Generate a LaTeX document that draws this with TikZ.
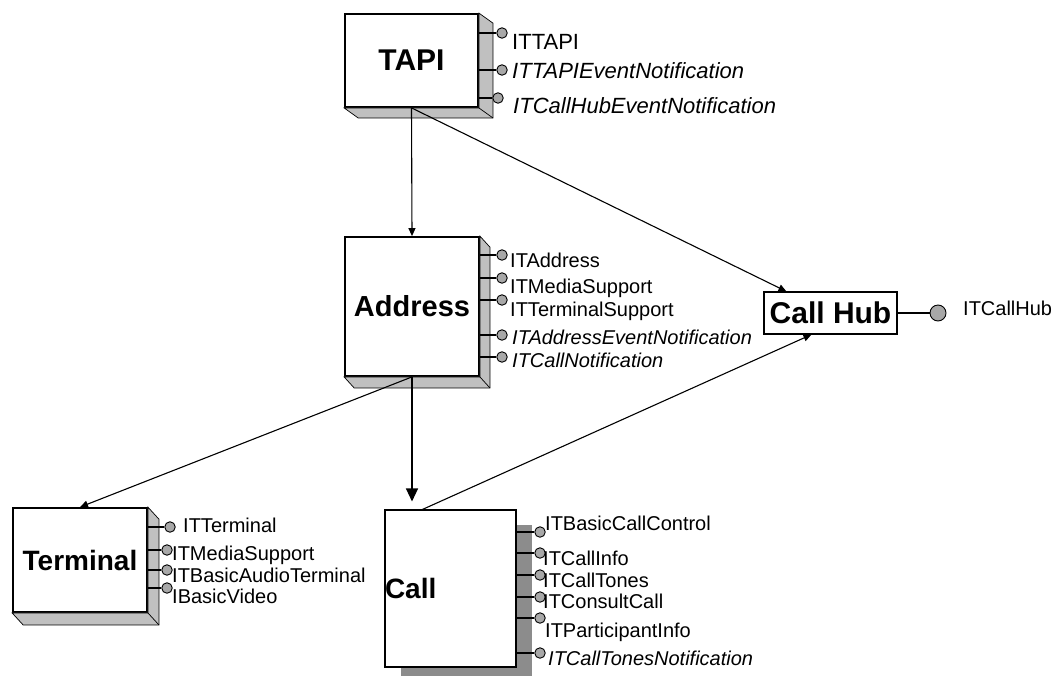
\documentclass[tikz,border=0pt]{standalone}
\usepackage{fontspec}
\setmainfont{Liberation Sans}
\usetikzlibrary{arrows.meta,calc,shadows}
\definecolor{sidegray}{HTML}{C0C0C0}
\definecolor{shadowgray}{HTML}{8C8C8C}
\definecolor{lolligray}{HTML}{A8A8A8}
\tikzset{
  box/.style={draw, fill=white, line width=1.8pt, inner sep=0pt},
  side/.style={draw, fill=sidegray, line width=0.7pt, line join=miter},
  conn/.style={line width=1.1pt, -{Triangle[length=8pt,width=7pt]}},
  bigconn/.style={line width=1.3pt, -{Triangle[length=13pt,width=12pt]}},
  lpc/.style={circle, draw, fill=lolligray, line width=0.9pt, minimum size=10.5pt, inner sep=0pt},
  lpl/.style={line width=1.1pt},
  lpt/.style={anchor=base west, inner sep=0pt, font=\fontsize{20}{20}\selectfont},
  lptbig/.style={anchor=base west, inner sep=0pt, font=\fontsize{22}{22}\selectfont},
}
% #1 name, #2 box, #3 circle x, #4 circle y, #5 text style, #6 text x, #7 baseline y, #8 text
\newcommand\lolli[8]{%
  \node[lpc] (#1c) at (#3,#4) {};
  \draw[lpl] (#1c -| #2.east) -- (#1c);
  \node[#5] (#1t) at (#6,#7) {#8};
}
% #1 box, #2 dx, #3 dy
\newcommand\bevel[3]{%
  \draw[side] (#1.north east) -- ($(#1.north east)+(#2,#3)$) -- ($(#1.south east)+(#2,#3)$)
    -- ($(#1.south west)+(#2,#3)$) -- (#1.south west) -- (#1.south east) -- cycle;
  \draw[line width=0.7pt] (#1.south east) -- ($(#1.south east)+(#2,#3)$);
}
\begin{document}
\begin{tikzpicture}[x=1pt, y=-1pt]
\useasboundingbox (0,0) rectangle (1052,675);

% boxes
\node[box, minimum width=133pt, minimum height=93pt, font=\bfseries\fontsize{30}{30}\selectfont] (tapi) at (411.5,60.5) {TAPI};
\bevel{tapi}{14}{10}
\node[box, minimum width=134pt, minimum height=139pt, font=\bfseries\fontsize{29}{29}\selectfont] (address) at (412,306.5) {Address};
\bevel{address}{10}{11}
\node[box, minimum width=134pt, minimum height=104pt, font=\bfseries\fontsize{28}{28}\selectfont] (terminal) at (80,560) {Terminal};
\bevel{terminal}{11}{12}
\node[box, line width=1.1pt, minimum width=133pt, minimum height=42pt, font=\bfseries\fontsize{30}{30}\selectfont] (callhub) at (830.5,313) {Call Hub};
\node[box, line width=1.1pt, minimum width=131pt, minimum height=157pt, text width=131pt, align=left,
      drop shadow={shadow xshift=16pt, shadow yshift=-15pt, fill=shadowgray, opacity=1},
      font=\bfseries\fontsize{28}{28}\selectfont] (call) at (450.5,588.5) {Call};

% TAPI interfaces
\lolli{ittapi}{tapi}{502}{33}{lptbig}{512}{49}{ITTAPI}
\lolli{ittapien}{tapi}{502}{70}{lptbig}{512}{78}{\itshape ITTAPIEventNotification}
\lolli{itchen}{tapi}{498}{98}{lptbig}{513}{113}{\itshape ITCallHubEventNotification}

% Address interfaces
\lolli{itaddr}{address}{502}{255}{lpt}{510}{267}{ITAddress}
\lolli{itmsa}{address}{502}{278}{lpt}{510}{293}{ITMediaSupport}
\lolli{itts}{address}{502}{300}{lpt}{510}{316}{ITTerminalSupport}
\lolli{itaen}{address}{502}{335}{lpt}{512}{344}{\itshape ITAddressEventNotification}
\lolli{itcn}{address}{502}{357}{lpt}{512}{367}{\itshape ITCallNotification}

% Terminal interfaces
\lolli{itterm}{terminal}{170}{527}{lpt}{183}{532}{ITTerminal}
\lolli{itmst}{terminal}{167}{550}{lpt}{172}{560}{ITMediaSupport}
\lolli{itbat}{terminal}{167}{570}{lpt}{172}{582}{ITBasicAudioTerminal}
\lolli{ibv}{terminal}{167}{588}{lpt}{172}{603}{IBasicVideo}

% Call interfaces
\lolli{itbcc}{call}{540}{532}{lpt}{545}{530}{ITBasicCallControl}
\lolli{itci}{call}{540}{553}{lpt}{543}{565}{ITCallInfo}
\lolli{itct}{call}{540}{575}{lpt}{543}{587}{ITCallTones}
\lolli{itcc}{call}{540}{597}{lpt}{543}{608}{ITConsultCall}
\lolli{itpi}{call}{540}{618}{lpt}{545}{637}{ITParticipantInfo}
\lolli{itctn}{call}{540}{653}{lpt}{548}{665}{\itshape ITCallTonesNotification}

% Call Hub interface
\node[lpc, minimum size=16pt] (itchc) at (938,313) {};
\draw[lpl] (callhub.east) -- (itchc);
\node[lpt] (itcht) at (963,315) {ITCallHub};

% connectors
\draw[conn] (tapi.south) -- (address.north);
\draw[conn] (tapi.south) -- ($(callhub.north west)+(23,0)$);
\draw[conn] (address.south) -- (terminal.north);
\draw[bigconn, shorten >=8pt] (address.south) -- (address.south |- call.north);
\draw[conn] ($(call.north west)+(38,0)$) -- ($(callhub.south west)+(48,0)$);
\end{tikzpicture}
\end{document}
